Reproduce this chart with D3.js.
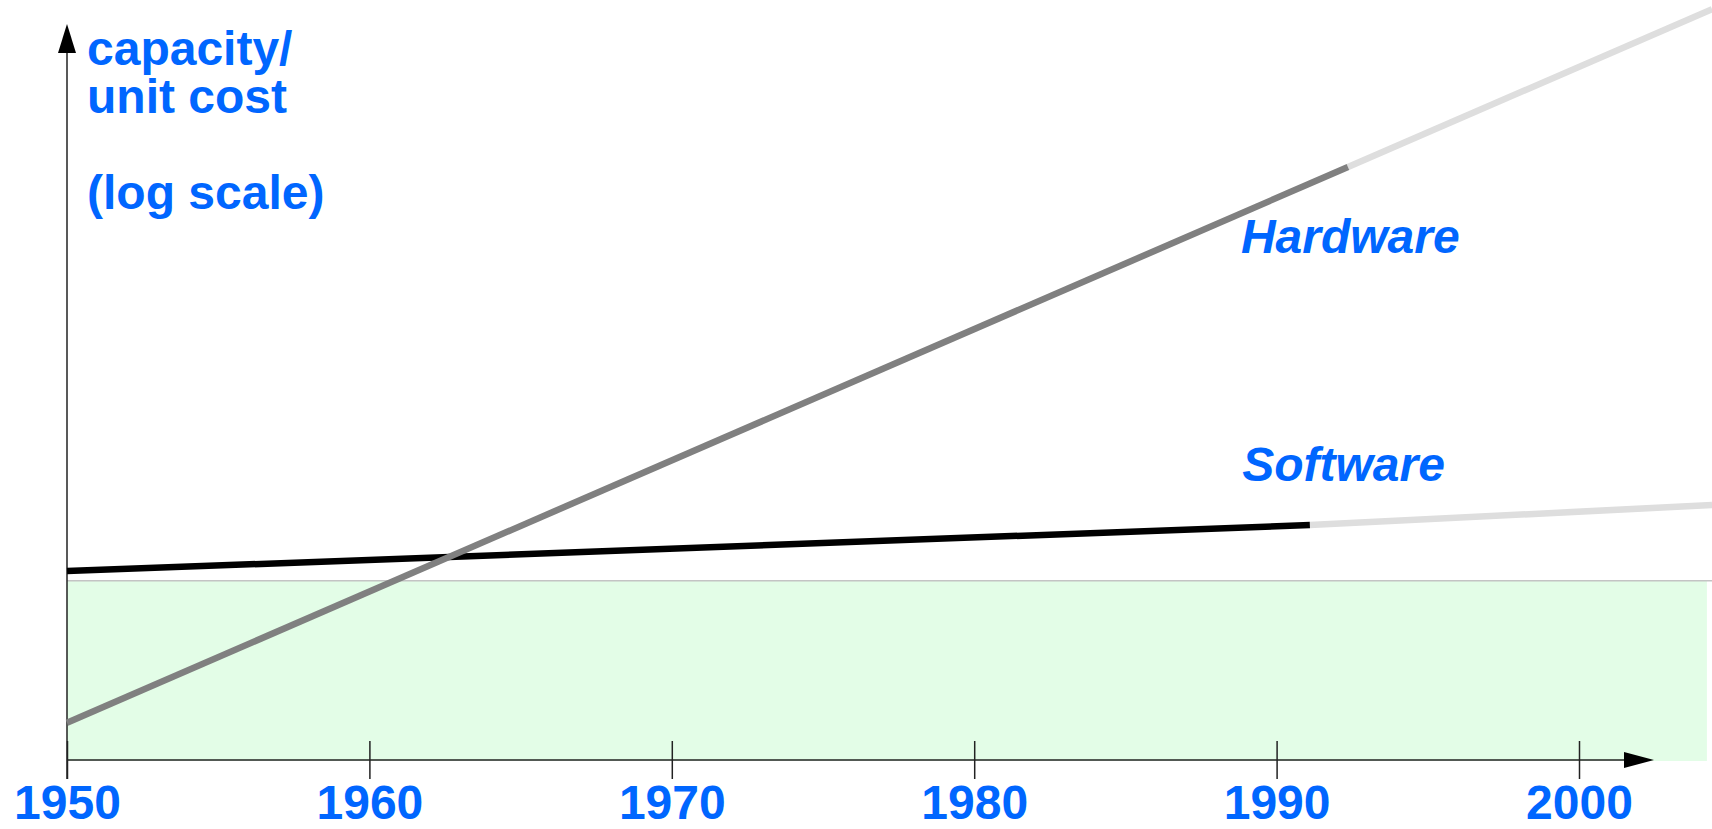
<!DOCTYPE html>
<html>
<head>
<meta charset="utf-8">
<script src="https://cdn.jsdelivr.net/npm/d3@7"></script>
<style>
  html, body { margin: 0; padding: 0; background: #fff; }
  svg { display: block; }
</style>
</head>
<body>
<svg id="chart" width="1712" height="829"></svg>
<script>
// ---- data (y values on a log scale, arbitrary units) ----
const tickYears = [1950, 1960, 1970, 1980, 1990, 2000];
const tickLabels = ["1950", "1960", "1970", "1980", "1990", "2000"];
const hardwareYears = [1950, 1992.36];
const hardwareValues = [2.54, 2.79e6];
const hardwareProjYears = [1992.36, 2004.4];
const hardwareProjValues = [2.79e6, 1.45e8];
const softwareYears = [1950, 1991.1];
const softwareValues = [113, 358];
const softwareProjYears = [1991.1, 2004.4];
const softwareProjValues = [358, 591];
const bandYears = [1950, 2004.23];
const bandValue = 89;
const titleLines = ["capacity/", "unit cost", "", "(log scale)"];
const seriesLabels = ["Hardware", "Software"];
const seriesLabelYears = [1988.82, 1988.86];
const seriesLabelValues = [3.24e5, 1078];

// ---- layout ----
const svg = d3.select("#chart");
const blue = "#0066ff";
const font = "'Liberation Sans', Arial, Helvetica, sans-serif";

const x = d3.scaleLinear().domain([1950, 2000]).range([67, 1579]);
const y = d3.scaleLog().domain([1, 1e8]).range([760, 24]);
const x0 = x(1950), yAxisY = y(1);

// green band
svg.append("rect")
  .attr("x", x(bandYears[0]))
  .attr("y", y(bandValue))
  .attr("width", x(bandYears[1]) - x(bandYears[0]))
  .attr("height", y(1) - y(bandValue) + 1)
  .attr("fill", "#e3fde7");
svg.append("line")
  .attr("x1", x(bandYears[0])).attr("x2", 1712)
  .attr("y1", y(bandValue)).attr("y2", y(bandValue))
  .attr("stroke", "#c4c4c4").attr("stroke-width", 1.5);

// x axis ticks via d3 axis
const xAxis = d3.axisBottom(x)
  .tickValues(tickYears)
  .tickFormat((d, i) => tickLabels[i])
  .tickSize(19);
const gx = svg.append("g").attr("transform", `translate(0,${yAxisY})`).call(xAxis);
gx.select(".domain").remove();
gx.selectAll(".tick line").attr("y1", -19).attr("stroke", "#222").attr("stroke-width", 1.5);
gx.selectAll(".tick text")
  .attr("y", 59).attr("dy", 0)
  .attr("fill", blue)
  .style("font-family", font)
  .style("font-weight", "bold")
  .style("font-size", "48px");

// axis lines with arrows
svg.append("line")
  .attr("x1", x0).attr("x2", 1626)
  .attr("y1", yAxisY).attr("y2", yAxisY)
  .attr("stroke", "#222").attr("stroke-width", 1.5);
svg.append("path")
  .attr("d", `M1624,${yAxisY - 8} L1654,${yAxisY} L1624,${yAxisY + 8} Z`)
  .attr("fill", "#000");
svg.append("line")
  .attr("x1", x0).attr("x2", x0)
  .attr("y1", yAxisY + 19).attr("y2", 52)
  .attr("stroke", "#222").attr("stroke-width", 1.5);
svg.append("path")
  .attr("d", `M${x0 - 9},53 L${x0},24 L${x0 + 9},53 Z`)
  .attr("fill", "#000");

// series lines
const line = d3.line().x(d => x(d[0])).y(d => y(d[1]));
function drawSeries(years, values, color) {
  svg.append("path")
    .datum(years.map((yr, i) => [yr, values[i]]))
    .attr("d", line)
    .attr("fill", "none")
    .attr("stroke", color)
    .attr("stroke-width", 6.5);
}
drawSeries(softwareProjYears, softwareProjValues, "#dedede");
drawSeries(hardwareProjYears, hardwareProjValues, "#dedede");
drawSeries(softwareYears, softwareValues, "#000000");
drawSeries(hardwareYears, hardwareValues, "#808080");

// series labels
svg.selectAll("text.series")
  .data(seriesLabels)
  .join("text")
  .attr("class", "series")
  .attr("x", (d, i) => x(seriesLabelYears[i]))
  .attr("y", (d, i) => y(seriesLabelValues[i]))
  .attr("fill", blue)
  .style("font-family", font)
  .style("font-weight", "bold")
  .style("font-style", "italic")
  .style("font-size", "48px")
  .text(d => d);

// title
const title = svg.append("text")
  .attr("x", 87).attr("y", 65)
  .attr("fill", blue)
  .style("font-family", font)
  .style("font-weight", "bold")
  .style("font-size", "48px");
titleLines.forEach((t, i) => {
  title.append("tspan").attr("x", 87).attr("y", 65 + i * 48).text(t);
});
</script>
</body>
</html>
